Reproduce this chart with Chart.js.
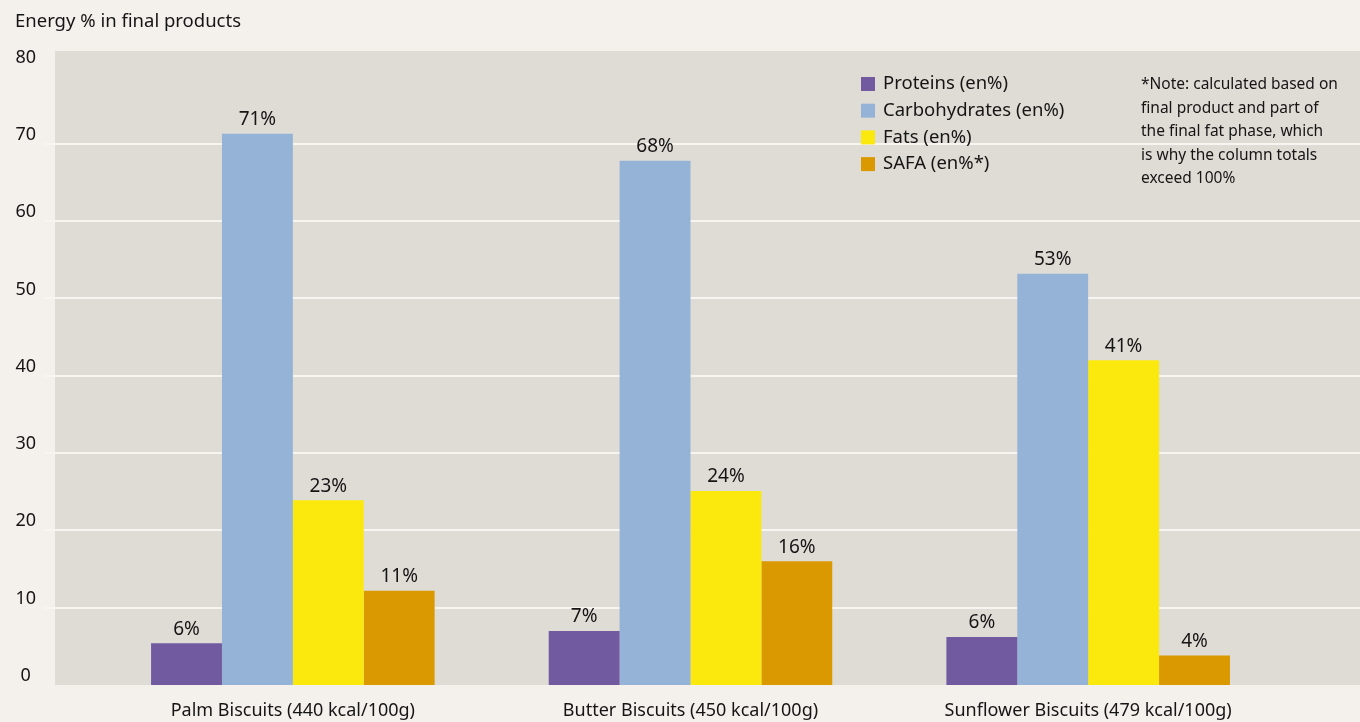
<!DOCTYPE html>
<html>
<head>
<meta charset="utf-8">
<script src="https://cdn.jsdelivr.net/npm/chart.js@4/dist/chart.umd.min.js"></script>
<style>
  html, body { margin: 0; padding: 0; background: #f4f1ec; }
  #wrap { width: 1360px; height: 722px; position: relative; }
</style>
</head>
<body>
<div id="wrap"><canvas id="chart" width="1360" height="722"></canvas></div>
<script>
const categories = ["Palm Biscuits (440 kcal/100g)", "Butter Biscuits (450 kcal/100g)", "Sunflower Biscuits (479 kcal/100g)"];
const seriesNames = ["Proteins (en%)", "Carbohydrates (en%)", "Fats (en%)", "SAFA (en%*)"];
const seriesColors = ["#715aa0", "#95b3d7", "#fbe90d", "#db9900"];

// bar heights
const proteins = [5.4, 7.0, 6.2];
const carbs = [71.3, 67.8, 53.2];
const fats = [23.9, 25.1, 42.0];
const safa = [12.2, 16.0, 3.8];

// printed value labels
const proteinLabels = ["6%", "7%", "6%"];
const carbLabels = ["71%", "68%", "53%"];
const fatLabels = ["23%", "24%", "41%"];
const safaLabels = ["11%", "16%", "4%"];

const yTicks = [0, 10, 20, 30, 40, 50, 60, 70, 80];
const gridValues = [10, 20, 30, 40, 50, 60, 70];

const noteLines = ["*Note: calculated based on", "final product and part of", "the final fat phase, which", "is why the column totals", "exceed 100%"];
const yTitle = "Energy % in final products";

const FONT = "'Noto Sans', 'Open Sans', sans-serif";
const TEXT = "#151515";

const allValues = [proteins, carbs, fats, safa];
const allLabels = [proteinLabels, carbLabels, fatLabels, safaLabels];

// background panel, gridlines, value labels, legend and note
const decor = {
    id: "decor",
    beforeDatasetsDraw(chart) {
        const ctx = chart.ctx;
        const y = chart.scales.y;
        const top = y.getPixelForValue(y.max);
        const bottom = y.getPixelForValue(0);
        ctx.save();
        ctx.fillStyle = "#dfdcd5";
        ctx.fillRect(55, top, chart.width - 55, bottom - top);
        ctx.strokeStyle = "#f7f5f1";
        ctx.lineWidth = 2;
        gridValues.forEach(v => {
            const py = Math.round(y.getPixelForValue(v));
            ctx.beginPath();
            ctx.moveTo(44, py);
            ctx.lineTo(chart.width, py);
            ctx.stroke();
        });
        ctx.restore();
    },
    afterDatasetsDraw(chart) {
        const ctx = chart.ctx;
        ctx.save();
        ctx.fillStyle = TEXT;
        ctx.font = "19px " + FONT;
        ctx.textAlign = "center";
        ctx.textBaseline = "middle";
        chart.data.datasets.forEach((ds, i) => {
            const meta = chart.getDatasetMeta(i);
            meta.data.forEach((bar, j) => {
                ctx.fillText(allLabels[i][j], bar.x, bar.y - 14);
            });
        });

        // title
        ctx.textAlign = "left";
        ctx.font = "18.5px " + FONT;
        ctx.fillText(yTitle, 15, 22);

        // legend
        ctx.font = "18.5px " + FONT;
        seriesNames.forEach((name, i) => {
            const cy = 84 + i * 26.7;
            ctx.fillStyle = seriesColors[i];
            ctx.fillRect(861, cy - 7, 14, 14);
            ctx.fillStyle = TEXT;
            ctx.fillText(name, 883, cy);
        });

        // note
        ctx.font = "15.5px " + FONT;
        noteLines.forEach((line, i) => {
            ctx.fillText(line, 1141, 85 + i * 23.5);
        });
        ctx.restore();
    }
};

new Chart(document.getElementById("chart"), {
    type: "bar",
    data: {
        labels: categories,
        datasets: seriesNames.map((name, i) => ({
            label: name,
            data: allValues[i],
            backgroundColor: seriesColors[i],
            borderWidth: 0,
            categoryPercentage: 0.713,
            barPercentage: 1.0,
        })),
    },
    options: {
        responsive: false,
        animation: false,
        devicePixelRatio: 1,
        layout: {
            padding: { left: 0, right: 73, top: 51, bottom: 0 },
        },
        plugins: {
            legend: { display: false },
            title: { display: false },
            tooltip: { enabled: false },
        },
        scales: {
            x: {
                grid: { display: false, drawTicks: false },
                border: { display: false },
                ticks: {
                    color: TEXT,
                    font: { family: FONT, size: 18 },
                    padding: 15,
                    maxRotation: 0,
                    autoSkip: false,
                },
                afterFit(scale) {
                    scale.height = 37;
                    scale.paddingLeft = 0;
                    scale.paddingRight = 0;
                },
            },
            y: {
                min: 0,
                max: 82,
                grid: { display: false, drawTicks: false },
                border: { display: false },
                afterBuildTicks(scale) {
                    scale.ticks = yTicks.map(v => ({ value: v }));
                },
                ticks: {
                    color: TEXT,
                    font: { family: FONT, size: 18 },
                    crossAlign: "center",
                    padding: 58,
                    labelOffset: -9,
                },
                afterFit(scale) {
                    scale.width = 94;
                    scale.paddingTop = 0;
                    scale.paddingBottom = 0;
                },
            },
        },
    },
    plugins: [decor],
});
</script>
</body>
</html>
